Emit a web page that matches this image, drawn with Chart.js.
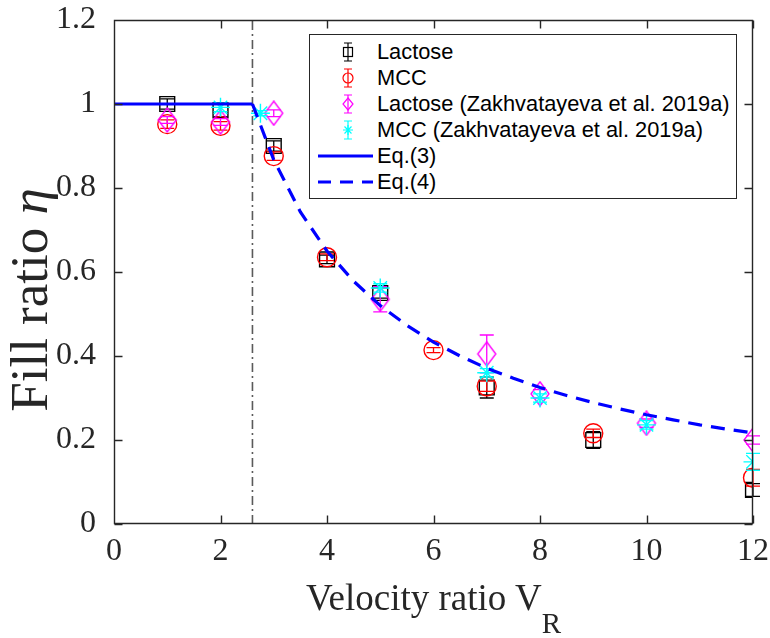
<!DOCTYPE html>
<html>
<head>
<meta charset="utf-8">
<script src="https://cdn.jsdelivr.net/npm/chart.js@4.4.0/dist/chart.umd.min.js"></script>
<style>
html, body { margin: 0; padding: 0; background: #fff; }
#wrap { position: relative; width: 770px; height: 638px; overflow: hidden; }
#chart { position: absolute; left: 0; top: 0; }
.ttl { position: absolute; font-family: 'Liberation Serif', 'Times New Roman', serif; color: #262626; white-space: nowrap; text-align: center; }
#xTitle { left: 114px; width: 639px; top: 576px; font-size: 37px; line-height: 44px; }
#xTitle sub { font-size: 29px; vertical-align: -0.8em; line-height: 0; }
#yTitle { left: -171px; top: 268px; width: 400px; height: 64px; line-height: 64px; font-size: 53px; transform: rotate(-90deg); }
#legend { position: absolute; left: 309px; top: 34px; width: 428px; height: 165px; border: 1px solid #262626; background: #fff; box-sizing: border-box; padding-top: 4px; font-family: 'Liberation Sans', Arial, sans-serif; font-size: 21.8px; color: #000; }
.row { height: 26px; display: flex; align-items: center; }
.row svg { width: 67px; height: 26px; flex: none; }
</style>
</head>
<body>
<div id="wrap">
  <canvas id="chart" width="770" height="638"></canvas>
  <div id="legend"></div>
  <div class="ttl" id="xTitle">Velocity ratio V<sub>R</sub></div>
  <div class="ttl" id="yTitle">Fill ratio <i>η</i></div>
</div>
<script>
const lactoseX = [1, 2, 3, 4, 5, 7, 9, 12];
const lactoseY = [1.0, 0.985, 0.9, 0.63, 0.55, 0.325, 0.2, 0.081];
const lactoseErr = [0.012, 0.015, 0.012, 0.01, 0.012, 0.025, 0.02, 0.015];

const mccX = [1, 2, 3, 4, 6, 7, 9, 12];
const mccY = [0.952, 0.948, 0.876, 0.635, 0.414, 0.328, 0.216, 0.11];
const mccErr = [0.01, 0.01, 0.01, 0.008, 0.006, 0.012, 0.01, 0.02];

const lacZX = [1, 2, 3, 5, 7, 8, 10, 12];
const lacZY = [0.962, 0.957, 0.978, 0.535, 0.405, 0.31, 0.24, 0.2];
const lacZErr = [0.008, 0.008, 0.008, 0.03, 0.045, 0.01, 0.01, 0.01];

const mccZX = [2, 2.75, 5, 7, 8, 10, 12];
const mccZY = [0.992, 0.978, 0.562, 0.36, 0.3, 0.236, 0.148];
const mccZErr = [0.01, 0.006, 0.01, 0.01, 0.01, 0.01, 0.02];

// model curves
const criticalVR = 2.6;
const eq3X = [0, 2.6];
const eq3Y = [1, 1];
const eq4X = [2.6, 3, 3.5, 4, 4.5, 5, 5.5, 6, 6.5, 7, 7.5, 8, 8.5, 9, 9.5, 10, 10.5, 11, 11.5, 12];
const eq4Y = [1.0, 0.867, 0.743, 0.65, 0.578, 0.52, 0.473, 0.433, 0.4, 0.371, 0.347, 0.325, 0.306, 0.289, 0.274, 0.26, 0.248, 0.236, 0.226, 0.217];

const xTicks = [0, 2, 4, 6, 8, 10, 12];
const yTicks = [0, 0.2, 0.4, 0.6, 0.8, 1, 1.2];

const pts = (xs, ys) => xs.map((x, i) => ({ x: x, y: ys[i] }));
const AXIS = '#262626';
const tickFont = { family: "'Liberation Serif', 'Times New Roman', serif", size: 32 };

// matlab diamonds are a bit narrower than tall
function diamondMark(color) {
    const c = document.createElement('canvas');
    c.width = 22; c.height = 26;
    const g = c.getContext('2d');
    g.strokeStyle = color; g.lineWidth = 1.4;
    g.beginPath();
    g.moveTo(11, 1); g.lineTo(20, 13); g.lineTo(11, 25); g.lineTo(2, 13); g.closePath();
    g.stroke();
    return c;
}

const errorBars = {
    id: 'errorBars',
    afterDatasetDraw(chart, args) {
        const ds = chart.data.datasets[args.index];
        if (!ds.errors) return;
        const xs = chart.scales.x, ys = chart.scales.y, ctx = chart.ctx;
        ctx.save();
        ctx.strokeStyle = ds.borderColor;
        ctx.lineWidth = 1.3;
        ds.data.forEach((p, i) => {
            const e = ds.errors[i];
            const px = xs.getPixelForValue(p.x);
            const t = ys.getPixelForValue(p.y + e), b = ys.getPixelForValue(p.y - e);
            ctx.beginPath();
            ctx.moveTo(px, t); ctx.lineTo(px, b);
            ctx.moveTo(px - 7, t); ctx.lineTo(px + 7, t);
            ctx.moveTo(px - 7, b); ctx.lineTo(px + 7, b);
            ctx.stroke();
        });
        ctx.restore();
    }
};

// matlab style box with inward ticks, placed from the scales themselves
const boxAxes = {
    id: 'boxAxes',
    afterDraw(chart) {
        const ctx = chart.ctx;
        const xs = chart.scales.x, ys = chart.scales.y;
        const L = Math.round(xs.getPixelForValue(0)) + 0.5, R = Math.round(xs.getPixelForValue(12)) - 0.5;
        const T = Math.round(ys.getPixelForValue(1.2)) + 0.5, B = Math.round(ys.getPixelForValue(0)) - 0.5;
        ctx.save();
        ctx.strokeStyle = AXIS;
        ctx.lineWidth = 1.4;
        ctx.beginPath();
        ctx.moveTo(L, T); ctx.lineTo(R, T); ctx.lineTo(R, B); ctx.lineTo(L, B); ctx.closePath();
        xTicks.forEach(v => {
            const px = Math.round(xs.getPixelForValue(v)) + 0.5;
            ctx.moveTo(px, B); ctx.lineTo(px, B - 8);
            ctx.moveTo(px, T); ctx.lineTo(px, T + 8);
        });
        yTicks.forEach(v => {
            const py = Math.round(ys.getPixelForValue(v)) + 0.5;
            ctx.moveTo(L, py); ctx.lineTo(L + 8, py);
            ctx.moveTo(R, py); ctx.lineTo(R - 8, py);
        });
        ctx.stroke();
        ctx.restore();
    }
};

const ctx = document.getElementById('chart').getContext('2d');
new Chart(ctx, {
    type: 'scatter',
    data: {
        datasets: [
            { label: 'critical', data: [{ x: criticalVR, y: 0 }, { x: criticalVR, y: 1.2 }], showLine: true,
              borderColor: '#5a5a5a', borderWidth: 1.6, borderDash: [9, 4, 2, 4], pointRadius: 0, order: 7 },
            { label: 'Lactose', data: pts(lactoseX, lactoseY), errors: lactoseErr, pointStyle: 'rect', pointRadius: 10.5,
              borderColor: '#000000', backgroundColor: 'rgba(0,0,0,0)', pointBorderWidth: 1.4, order: 6 },
            { label: 'MCC', data: pts(mccX, mccY), errors: mccErr, pointStyle: 'circle', pointRadius: 9.5,
              borderColor: '#ff0000', backgroundColor: 'rgba(0,0,0,0)', pointBorderWidth: 1.4, order: 5 },
            { label: 'Lactose (Zakhvatayeva et al. 2019a)', data: pts(lacZX, lacZY), errors: lacZErr, pointStyle: diamondMark('#ff00ff'),
              borderColor: '#ff00ff', backgroundColor: 'rgba(0,0,0,0)', order: 4 },
            { label: 'MCC (Zakhvatayeva et al. 2019a)', data: pts(mccZX, mccZY), errors: mccZErr, pointStyle: 'star', pointRadius: 9.5,
              borderColor: '#00ffff', backgroundColor: 'rgba(0,0,0,0)', pointBorderWidth: 1.4, order: 3 },
            { label: 'Eq.(3)', data: pts(eq3X, eq3Y), showLine: true, borderColor: '#0000ff', borderWidth: 3, pointRadius: 0, order: 2 },
            { label: 'Eq.(4)', data: pts(eq4X, eq4Y), showLine: true, borderColor: '#0000ff', borderWidth: 3.2,
              borderDash: [14, 9], pointRadius: 0, order: 1 }
        ]
    },
    options: {
        responsive: false,
        animation: false,
        events: [],
        layout: { padding: { top: 20, right: 17, left: 0, bottom: 0 } },
        plugins: { legend: { display: false }, tooltip: { enabled: false } },
        scales: {
            x: {
                type: 'linear', min: 0, max: 12,
                grid: { display: false }, border: { display: false },
                ticks: { stepSize: 2, font: tickFont, color: AXIS, padding: 0, maxRotation: 0 },
                afterFit(s) { s.height = 114; s.paddingLeft = 0; s.paddingRight = 0; }
            },
            y: {
                type: 'linear', min: 0, max: 1.2,
                grid: { display: false }, border: { display: false },
                ticks: { stepSize: 0.2, font: tickFont, color: AXIS, padding: 10,
                         callback: v => String(Number(v.toFixed(1))) },
                afterFit(s) { s.width = 114; s.paddingTop = 0; s.paddingBottom = 0; }
            }
        }
    },
    plugins: [errorBars, boxAxes]
});

// legend (html, drawn like the matlab legend box)
const legendItems = [
    { text: 'Lactose', color: '#000', mark: 'square' },
    { text: 'MCC', color: '#ff0000', mark: 'circle' },
    { text: 'Lactose (Zakhvatayeva et al. 2019a)', color: '#ff00ff', mark: 'diamond' },
    { text: 'MCC (Zakhvatayeva et al. 2019a)', color: '#00ffff', mark: 'star' },
    { text: 'Eq.(3)', color: '#0000ff', mark: 'line' },
    { text: 'Eq.(4)', color: '#0000ff', mark: 'dash' }
];
function markSvg(it) {
    const c = it.color, cx = 38, cy = 13;
    let m = '';
    if (it.mark === 'line') return `<line x1="8" y1="${cy}" x2="63" y2="${cy}" stroke="${c}" stroke-width="3"/>`;
    if (it.mark === 'dash') return `<line x1="8" y1="${cy}" x2="63" y2="${cy}" stroke="${c}" stroke-width="3" stroke-dasharray="13 9"/>`;
    const bar = `<path d="M${cx} ${cy - 9}V${cy + 9}M${cx - 4} ${cy - 9}H${cx + 4}M${cx - 4} ${cy + 9}H${cx + 4}" stroke="${c}" stroke-width="1.2" fill="none"/>`;
    if (it.mark === 'square') m = `<rect x="${cx - 4.5}" y="${cy - 4.5}" width="9" height="9" stroke="${c}" stroke-width="1.2" fill="none"/>`;
    if (it.mark === 'circle') m = `<circle cx="${cx}" cy="${cy}" r="5" stroke="${c}" stroke-width="1.2" fill="none"/>`;
    if (it.mark === 'diamond') m = `<path d="M${cx} ${cy - 6}L${cx + 5} ${cy}L${cx} ${cy + 6}L${cx - 5} ${cy}Z" stroke="${c}" stroke-width="1.2" fill="none"/>`;
    if (it.mark === 'star') m = `<path d="M${cx - 5} ${cy}H${cx + 5}M${cx} ${cy - 5}V${cy + 5}M${cx - 3.5} ${cy - 3.5}L${cx + 3.5} ${cy + 3.5}M${cx - 3.5} ${cy + 3.5}L${cx + 3.5} ${cy - 3.5}" stroke="${c}" stroke-width="1.2" fill="none"/>`;
    return bar + m;
}
const legendBox = document.getElementById('legend');
legendItems.forEach(it => {
    const row = document.createElement('div');
    row.className = 'row';
    row.innerHTML = `<svg viewBox="0 0 67 26">${markSvg(it)}</svg><span>${it.text}</span>`;
    legendBox.appendChild(row);
});
</script>
</body>
</html>
